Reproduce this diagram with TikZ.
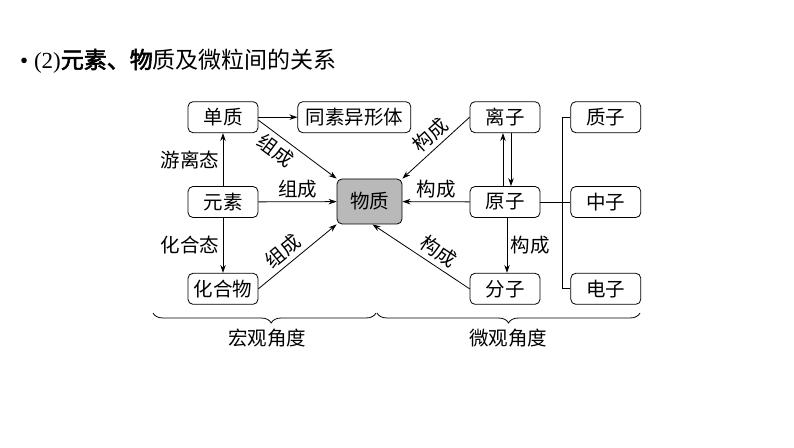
\documentclass[tikz,border=0pt]{standalone}
\usepackage{fontspec}
\setmainfont{Liberation Serif}
\newfontfamily\cjk[AutoFakeBold=2.5]{Noto Sans CJK SC}
\usetikzlibrary{arrows.meta, positioning, decorations.pathreplacing}

\begin{document}
\begin{tikzpicture}[x=1pt, y=1pt, font=\cjk\fontsize{19.5}{23}\selectfont,
                box/.style={draw, line width=0.8pt, rounded corners=5pt,
                            minimum width=70pt, minimum height=31pt, inner sep=0pt},
                link/.style={-{Stealth[length=8pt, width=5.5pt]}, line width=0.8pt},
                brace/.style={decorate, line width=0.8pt,
                              decoration={brace, mirror, amplitude=10pt}}]
                \useasboundingbox (0,0) rectangle (794,447);
                % Title line
                \node[anchor=west, inner sep=0pt, font=\fontsize{23}{26}\selectfont] (title) at (20,386)
                    {\textbullet\ (2)\cjk\textbf{元素、物}质及微粒间的关系};

                % Macro side - start with element as anchor
                \node[box] (yuansu) at (223,245) {元素};
                \node[box, above=53pt of yuansu] (danzhi) {单质};
                \node[box, below=55pt of yuansu] (huahe) {化合物};
                \node[box, minimum width=113pt, right=39pt of danzhi] (tongsu) {同素异形体};
                \node[box, fill=gray!55, minimum width=65pt, minimum height=45pt] (wuzhi) at (369.5,245.5) {物质};

                % Micro side - atom as anchor
                \node[box] (yuanzi) at (505,245) {原子};
                \node[box, above=53pt of yuanzi] (lizi) {离子};
                \node[box, below=55pt of yuanzi] (fenzi) {分子};
                \node[box, right=30pt of yuanzi] (zhongzi) {中子};
                \node[box, above=53pt of zhongzi] (zhizi) {质子};
                \node[box, below=55pt of zhongzi] (dianzi) {电子};

                % Element, simple substance, compound
                \draw[link] (danzhi) -- (tongsu);
                \draw[link] (yuansu) -- node[left] {游离态} (danzhi);
                \draw[link] (yuansu) -- node[left] {化合态} (huahe);
                \draw[link] (yuansu) -- node[above] {组成} (wuzhi);
                \draw[link] ([yshift=-3pt]danzhi.east) -- (wuzhi.north west)
                    node[pos=0.33, below=1pt, sloped] {组成};
                \draw[link] (huahe.east) -- (wuzhi.south west)
                    node[pos=0.42, above=1pt, sloped] {组成};

                % Particles
                \draw[link] (lizi.west) -- (wuzhi.north east)
                    node[pos=0.45, above=1pt, sloped] {构成};
                \draw[link] (yuanzi) -- node[above] {构成} (wuzhi);
                \draw[link] (fenzi.west) -- ([xshift=3pt]wuzhi.south)
                    node[pos=0.4, above=1pt, sloped] {构成};
                \draw[link] ([xshift=-2pt]yuanzi.north) -- ([xshift=-2pt]lizi.south);
                \draw[link] ([xshift=6pt]lizi.south) -- ([xshift=6pt]yuanzi.north);
                \draw[link] ([xshift=2pt]yuanzi.south) -- node[right] {构成} ([xshift=2pt]fenzi.north);
                \draw[line width=0.8pt] (yuanzi) -- (zhongzi);
                \draw[line width=0.8pt] (zhizi.west) -- ([xshift=-8pt]zhizi.west) |- (dianzi.west);

                % Braces
                \draw[brace, decoration={aspect=0.53}] (153,134) -- (376,134);
                \draw[brace] (377,134) -- (640,134);
                \node (hongguan) at (267,109) {宏观角度};
                \node (weiguan) at (508,109) {微观角度};
            \end{tikzpicture}
\end{document}
